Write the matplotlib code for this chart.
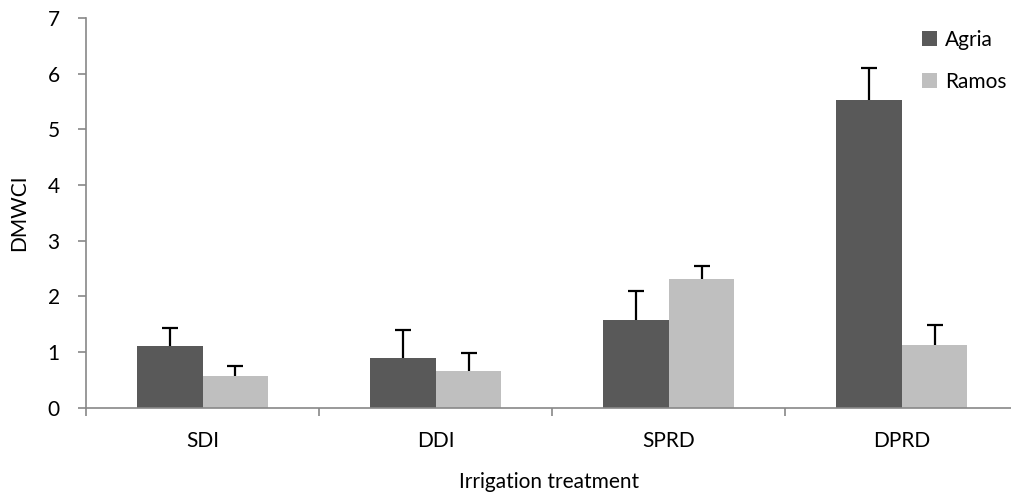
import numpy as np
import matplotlib.pyplot as plt

categories = ['SDI', 'DDI', 'SPRD', 'DPRD']
agria = [1.11, 0.89, 1.57, 5.53]
agria_err = [0.32, 0.51, 0.52, 0.57]
ramos = [0.57, 0.65, 2.31, 1.13]
ramos_err = [0.18, 0.33, 0.24, 0.35]

plt.rcParams['font.family'] = ['Lato', 'DejaVu Sans']

fig = plt.figure(figsize=(10.12, 4.95), dpi=100)
ax = fig.add_axes([0.085, 0.1764, 0.915, 0.7872])

x = np.arange(len(categories))
width = 0.283

# bars, then upper-only error bars (stem + cap marker)
for offset, vals, errs, color, name in [(-width / 2, agria, agria_err, '#595959', 'Agria'),
                                        (width / 2, ramos, ramos_err, '#bfbfbf', 'Ramos')]:
    xs = x + offset
    vals = np.array(vals)
    errs = np.array(errs)
    ax.bar(xs, vals, width, color=color, label=name, zorder=2)
    ax.vlines(xs, vals, vals + errs, color='black', linewidth=1.6, zorder=3)
    ax.plot(xs, vals + errs, ls='none', marker='_', markersize=11, markeredgewidth=1.6,
            color='black', zorder=3)

ax.set_ylim(0, 7)
ax.set_xlim(-0.5, 3.474)
ax.set_yticks(range(8))

# ticks at the category boundaries, labels at the centres
ax.set_xticks([-0.5, 0.5, 1.5, 2.5])
ax.set_xticklabels([])
ax.set_xticks(x, minor=True)
ax.set_xticklabels(categories, minor=True)
ax.tick_params(axis='x', which='minor', length=0, pad=17, labelsize=15)
ax.tick_params(axis='x', which='major', length=6, color='#888888', width=1.2)
ax.tick_params(axis='y', length=6, color='#888888', width=1.2, labelsize=15, pad=13)

for s in ['top', 'right']:
    ax.spines[s].set_visible(False)
for s in ['left', 'bottom']:
    ax.spines[s].set_color('#888888')
    ax.spines[s].set_linewidth(1.2)

ax.set_xlabel('Irrigation treatment', fontsize=15, labelpad=15)
ax.set_ylabel('DMWCI', fontsize=15, labelpad=13)

ax.legend(loc='upper left', bbox_to_anchor=(922 / 1012, 1 - 30 / 495), bbox_transform=fig.transFigure,
          frameon=False, fontsize=15, borderpad=0, borderaxespad=0,
          handlelength=0.7, handleheight=0.7, labelspacing=1.05, handletextpad=0.4)

fig.savefig('out.png', dpi=100)
